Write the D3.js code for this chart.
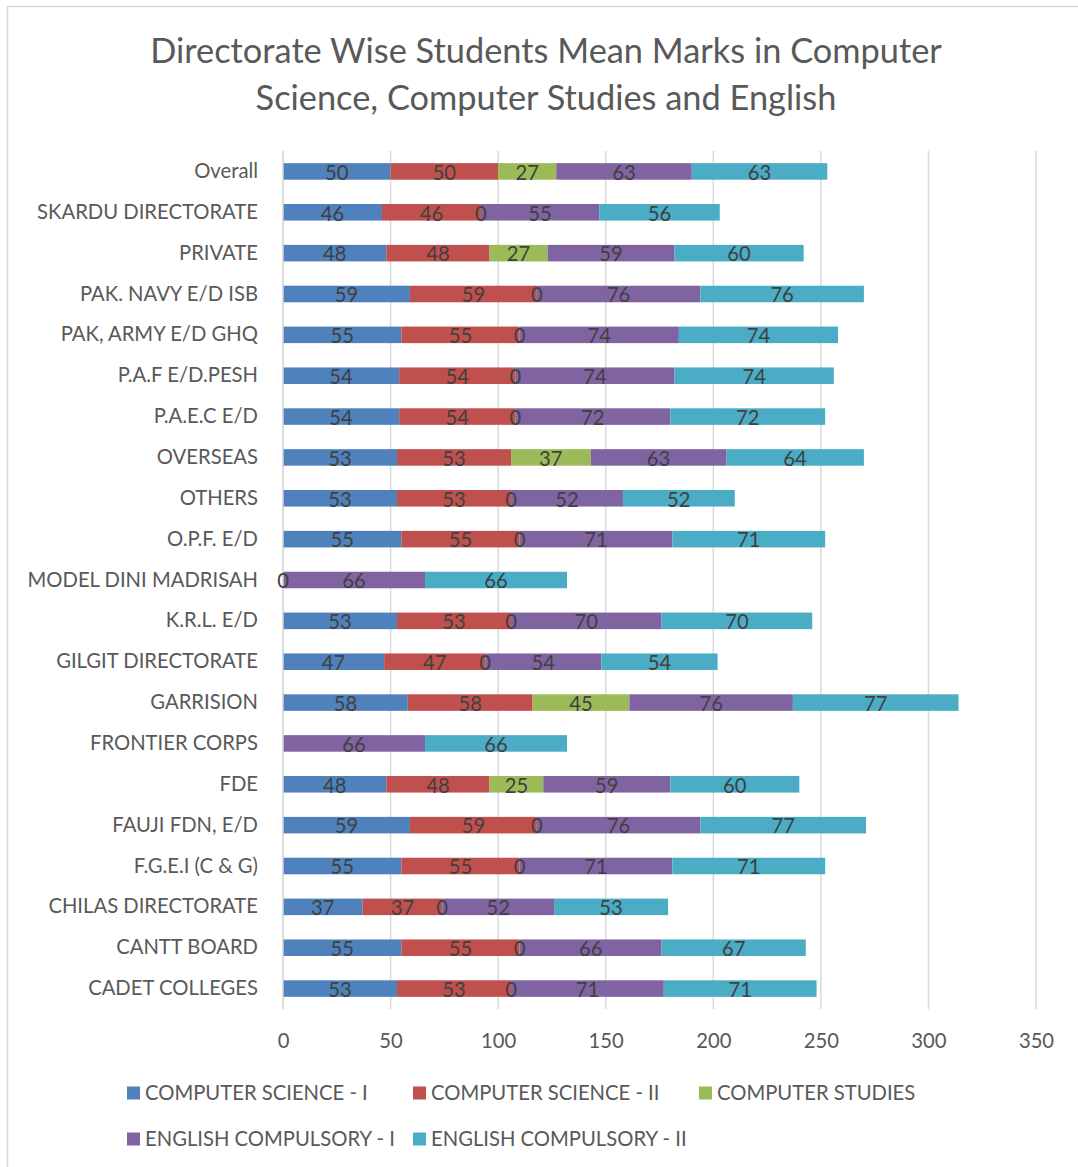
<!DOCTYPE html>
<html>
<head>
<meta charset="utf-8">
<script src="https://cdn.jsdelivr.net/npm/d3@7"></script>
<style>
  body { margin: 0; background: #ffffff; }
  svg { display: block; }
</style>
</head>
<body>
<svg id="chart" width="1078" height="1167"></svg>
<script>
// ---------------- DATA ----------------
const categories = [
  "Overall", "SKARDU DIRECTORATE", "PRIVATE", "PAK. NAVY E/D ISB", "PAK, ARMY E/D GHQ",
  "P.A.F E/D.PESH", "P.A.E.C E/D", "OVERSEAS", "OTHERS", "O.P.F. E/D",
  "MODEL DINI MADRISAH", "K.R.L. E/D", "GILGIT DIRECTORATE", "GARRISION", "FRONTIER CORPS",
  "FDE", "FAUJI FDN, E/D", "F.G.E.I (C & G)", "CHILAS DIRECTORATE", "CANTT BOARD", "CADET COLLEGES"
];
const seriesNames = [
  "COMPUTER SCIENCE - I", "COMPUTER SCIENCE - II", "COMPUTER STUDIES",
  "ENGLISH COMPULSORY - I", "ENGLISH COMPULSORY - II"
];
const seriesColors = ["#4F81BD", "#C0504D", "#9BBB59", "#8064A2", "#4BACC6"];

const computerScienceI  = [50, 46, 48, 59, 55, 54, 54, 53, 53, 55, null, 53, 47, 58, null, 48, 59, 55, 37, 55, 53];
const computerScienceII = [50, 46, 48, 59, 55, 54, 54, 53, 53, 55, null, 53, 47, 58, null, 48, 59, 55, 37, 55, 53];
const computerStudies   = [27,  0, 27,  0,  0,  0,  0, 37,  0,  0,    0,  0,  0, 45, null, 25,  0,  0,  0,  0,  0];
const englishI          = [63, 55, 59, 76, 74, 74, 72, 63, 52, 71,   66, 70, 54, 76,   66, 59, 76, 71, 52, 66, 71];
const englishII         = [63, 56, 60, 76, 74, 74, 72, 64, 52, 71,   66, 70, 54, 77,   66, 60, 77, 71, 53, 67, 71];

const xTicks = [0, 50, 100, 150, 200, 250, 300, 350];
const titleLines = [
  "Directorate Wise Students Mean Marks in Computer",
  "Science, Computer Studies and English"
];

// ---------------- SETUP ----------------
const FONT = "Lato, 'Open Sans', sans-serif";
const TEXT_GREY = "#595959";
const LABEL_DARK = "#404040";
const GRID = "#D9D9D9";

const svg = d3.select("#chart");
svg.append("rect").attr("width", 1078).attr("height", 1167).attr("fill", "#fff");

function fitSize(str, target) {
  const t = svg.append("text").attr("font-family", FONT).attr("font-size", 100).text(str);
  const w = t.node().getComputedTextLength();
  t.remove();
  return 100 * target / w;
}
const baseSize = (fitSize("SKARDU DIRECTORATE", 221) + fitSize("COMPUTER SCIENCE - I", 223)) / 2;
const titleSize = fitSize(titleLines[0], 792);

// chart border (continues beyond the right and bottom of the picture)
svg.append("rect")
  .attr("x", 7.5).attr("y", 6.5).attr("width", 1200).attr("height", 1300)
  .attr("fill", "none").attr("stroke", GRID).attr("stroke-width", 1.5);

const plot = { left: 283, right: 1036, top: 151, bottom: 1009 };

const x = d3.scaleLinear().domain([0, 350]).range([plot.left, plot.right]);
const y = d3.scaleBand().domain(categories).range([plot.top, plot.bottom])
  .paddingInner(0.595).paddingOuter(0.2975);

const keys = ["cs1", "cs2", "cst", "e1", "e2"];
const table = categories.map((c, i) => ({
  cat: c,
  cs1: computerScienceI[i], cs2: computerScienceII[i], cst: computerStudies[i],
  e1: englishI[i], e2: englishII[i]
}));
const stacked = d3.stack().keys(keys).value((d, k) => d[k] == null ? 0 : d[k])(table);

// ---------------- TITLE ----------------
const title = svg.append("g").attr("font-family", FONT).attr("fill", TEXT_GREY)
  .attr("font-size", titleSize).attr("text-anchor", "middle");
title.selectAll("text").data(titleLines).join("text")
  .attr("x", 546).attr("y", (d, i) => 63 + i * 47).text(d => d);

// ---------------- GRID ----------------
svg.append("g").selectAll("line").data(xTicks.filter(t => t > 0)).join("line")
  .attr("x1", d => x(d)).attr("x2", d => x(d))
  .attr("y1", plot.top).attr("y2", plot.bottom)
  .attr("stroke", GRID).attr("stroke-width", 1.5);

// ---------------- BARS ----------------
const barG = svg.append("g");
stacked.forEach((layer, si) => {
  barG.append("g").attr("fill", seriesColors[si])
    .selectAll("rect").data(layer).join("rect")
    .attr("x", d => x(d[0]))
    .attr("y", d => y(d.data.cat))
    .attr("width", d => x(d[1]) - x(d[0]))
    .attr("height", y.bandwidth());
});

// category axis line
svg.append("line")
  .attr("x1", plot.left).attr("x2", plot.left)
  .attr("y1", plot.top).attr("y2", plot.bottom)
  .attr("stroke", "#D0D0D0").attr("stroke-width", 1.5);

// ---------------- DATA LABELS ----------------
const lblG = svg.append("g").attr("font-family", FONT).attr("font-size", baseSize)
  .attr("fill", LABEL_DARK).attr("text-anchor", "middle");
stacked.forEach((layer, si) => {
  const k = keys[si];
  lblG.append("g").selectAll("text")
    .data(layer.filter(d => d.data[k] != null)).join("text")
    .attr("x", d => (x(d[0]) + x(d[1])) / 2)
    .attr("y", d => y(d.data.cat) + y.bandwidth() / 2 + 1 + 0.36 * baseSize)
    .text(d => d3.format("d")(d.data[k]));
});

// ---------------- AXES ----------------
const yAxis = svg.append("g").attr("transform", `translate(${plot.left},0)`)
  .call(d3.axisLeft(y).tickSize(0).tickPadding(25));
yAxis.select(".domain").remove();
yAxis.selectAll("text")
  .attr("font-family", FONT).attr("font-size", baseSize).attr("fill", TEXT_GREY)
  .attr("dy", null).attr("y", 0.36 * baseSize - 0.8);

const xAxis = svg.append("g").attr("transform", `translate(0,${plot.bottom})`)
  .call(d3.axisBottom(x).tickValues(xTicks).tickSize(0).tickPadding(0));
xAxis.select(".domain").remove();
xAxis.selectAll("text")
  .attr("font-family", FONT).attr("font-size", baseSize).attr("fill", TEXT_GREY)
  .attr("dy", null).attr("y", 1041 - plot.bottom + 0.36 * baseSize);

// ---------------- LEGEND ----------------
const legendCol = 286, legendX0 = 127, legendRows = [1093, 1139], sq = 13;
const legend = svg.append("g").attr("font-family", FONT).attr("font-size", baseSize).attr("fill", TEXT_GREY);
const items = legend.selectAll("g").data(seriesNames).join("g")
  .attr("transform", (d, i) => `translate(${legendX0 + (i % 3) * legendCol},${legendRows[Math.floor(i / 3)]})`);
items.append("rect").attr("x", 0).attr("y", -sq / 2).attr("width", sq).attr("height", sq)
  .attr("fill", (d, i) => seriesColors[i]);
items.append("text").attr("x", sq + 5).attr("y", 0.36 * baseSize).text(d => d);
</script>
</body>
</html>
